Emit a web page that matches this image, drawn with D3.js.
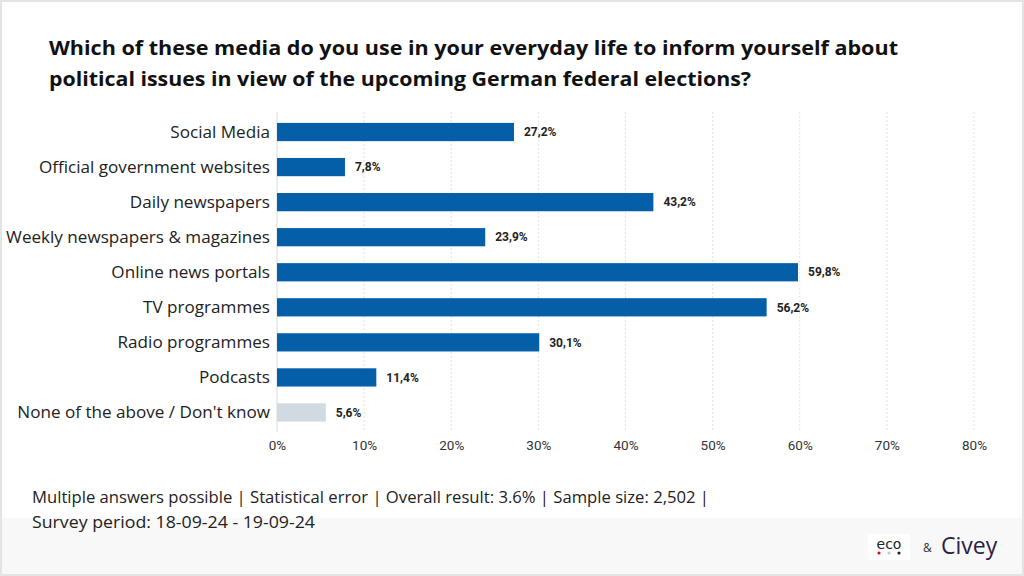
<!DOCTYPE html>
<html><head><meta charset="utf-8">
<script src="https://cdn.jsdelivr.net/npm/d3@7"></script>
<style>
html,body{margin:0;padding:0;background:#fff;}
svg{display:block;}
</style></head>
<body>
<svg id="chart" width="1024" height="576"></svg>
<script>
const titleLines = [
  "Which of these media do you use in your everyday life to inform yourself about",
  "political issues in view of the upcoming German federal elections?"
];
const categories = ["Social Media","Official government websites","Daily newspapers","Weekly newspapers & magazines","Online news portals","TV programmes","Radio programmes","Podcasts","None of the above / Don't know"];
const values = [27.2,7.8,43.2,23.9,59.8,56.2,30.1,11.4,5.6];
const highlight = [true,true,true,true,true,true,true,true,false];
const tickValues = [0,10,20,30,40,50,60,70,80];
const footerLines = [
  "Multiple answers possible | Statistical error | Overall result: 3.6% | Sample size: 2,502 |",
  "Survey period: 18-09-24 - 19-09-24"
];

const svg = d3.select("#chart");
const W = 1024, H = 576;

// background & frame
svg.append("rect").attr("x",0).attr("y",0).attr("width",W).attr("height",H).attr("fill","#fff");
svg.append("rect").attr("x",0).attr("y",518).attr("width",W).attr("height",H-518).attr("fill","#f8f8f8");
svg.append("rect").attr("x",1).attr("y",1).attr("width",W-2).attr("height",H-2)
  .attr("fill","none").attr("stroke","#e4e4e4").attr("stroke-width",2);

// title
const titleWidths = [849, 702];
titleLines.forEach((t,i)=>{
  svg.append("text").attr("x",49).attr("y",55+i*31)
    .attr("font-family","'Open Sans', sans-serif").attr("font-weight",700)
    .attr("font-size",20).attr("fill","#111")
    .attr("textLength",titleWidths[i]).attr("lengthAdjust","spacingAndGlyphs")
    .text(t);
});

const x = d3.scaleLinear().domain([0,80]).range([277,974]);
const y = d3.scaleBand().domain(categories).range([114.5,430]).paddingInner(0.48).paddingOuter(0.24);

// grid
svg.append("g").selectAll("line").data(tickValues.slice(1)).join("line")
  .attr("x1",d=>x(d)).attr("x2",d=>x(d)).attr("y1",112).attr("y2",432)
  .attr("stroke","#e2e2e2").attr("stroke-width",1).attr("stroke-dasharray","2,2");
svg.append("line").attr("x1",x(0)).attr("x2",x(0)).attr("y1",112).attr("y2",432)
  .attr("stroke","#e6e6e6").attr("stroke-width",1.5);

// bars
svg.append("g").selectAll("rect").data(categories).join("rect")
  .attr("x",x(0)).attr("y",(d)=>y(d))
  .attr("width",(d,i)=>x(values[i])-x(0)).attr("height",y.bandwidth())
  .attr("fill",(d,i)=>highlight[i]?"#045fa8":"#d1d9e1");

// value labels
svg.append("g").selectAll("text").data(categories).join("text")
  .attr("x",(d,i)=>x(values[i])+10).attr("y",d=>y(d)+y.bandwidth()/2)
  .attr("dy","0.35em")
  .attr("font-family","Roboto, sans-serif").attr("font-weight",700).attr("font-size",12)
  .attr("fill","#222")
  .text((d,i)=>d3.format(".1f")(values[i]).replace(".",",")+"%");

// category labels
const yAxis = d3.axisLeft(y).tickSize(0).tickPadding(7);
const ga = svg.append("g").attr("transform",`translate(${x(0)},0)`).call(yAxis);
ga.select(".domain").remove();
ga.selectAll("text").attr("font-family","'Open Sans', sans-serif").attr("font-size",17.1)
  .attr("fill","#222").attr("dy","0.33em");

// x axis
const xAxis = d3.axisBottom(x).tickValues(tickValues).tickSize(0).tickPadding(0).tickFormat(d=>d+"%");
const gx = svg.append("g").attr("transform","translate(0,437)").call(xAxis);
gx.select(".domain").remove();
gx.selectAll("text").attr("font-family","Roboto, sans-serif").attr("font-size",13.5)
  .attr("fill","#333").attr("dy","0.95em");

// footer
const footerWidths = [677, 283];
footerLines.forEach((t,i)=>{
  svg.append("text").attr("x",32).attr("y",503+i*25)
    .attr("font-family","'Open Sans', sans-serif").attr("font-size",16).attr("fill","#222")
    .attr("textLength",footerWidths[i]).attr("lengthAdjust","spacingAndGlyphs")
    .text(t);
});

// logos
const lg = svg.append("g");
lg.append("rect").attr("x",868).attr("y",534).attr("width",42).attr("height",26).attr("fill","#fff");
lg.append("text").attr("x",889).attr("y",549).attr("text-anchor","middle")
  .attr("font-family","'DejaVu Sans', sans-serif").attr("font-size",14).attr("fill","#222").text("eco");
[["#e30613",879],["#c8c8c8",889],["#222",899]].forEach(([c,cx])=>{
  lg.append("circle").attr("cx",cx).attr("cy",553).attr("r",1.6).attr("fill",c);
});
lg.append("text").attr("x",923).attr("y",552).attr("font-family","'Open Sans', sans-serif")
  .attr("font-size",12).attr("fill","#333").text("&");
lg.append("text").attr("x",941).attr("y",554).attr("font-family","'Open Sans', sans-serif")
  .attr("font-size",23).attr("fill","#2b1f45").text("Civey");
</script>
</body></html>
